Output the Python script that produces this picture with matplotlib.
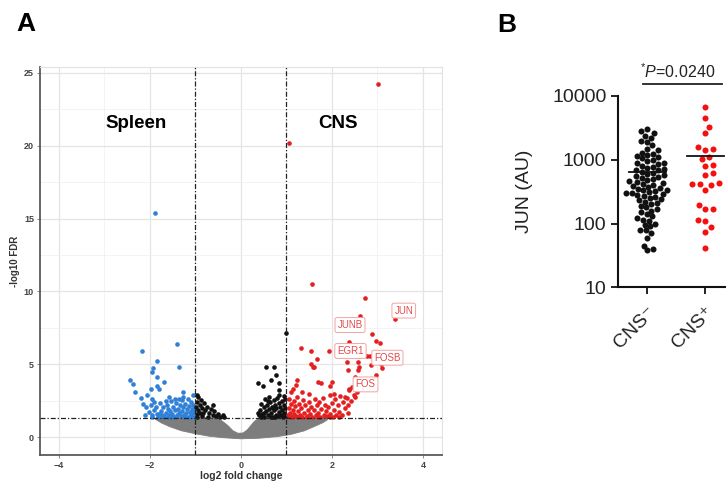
import numpy as np
import matplotlib
matplotlib.use('Agg')
import matplotlib.pyplot as plt
from matplotlib.patches import Polygon

plt.rcParams['font.family'] = ['Liberation Sans', 'DejaVu Sans']
plt.rcParams['mathtext.fontset'] = 'custom'
plt.rcParams['mathtext.rm'] = 'Liberation Sans'
plt.rcParams['mathtext.it'] = 'Liberation Sans:italic'

# ---------------- Panel A data (log2 fold change, -log10 FDR) ----------------
grey_outline = [(-1.85, 1.38), (-0.55, 1.34), (-0.4, 1.1), (-0.28, 0.8), (-0.17, 0.45),
                (-0.06, 0.28), (0.05, 0.3), (0.14, 0.5), (0.22, 0.8), (0.3, 1.1), (0.4, 1.3),
                (0.5, 1.38), (1.93, 1.38), (1.9, 1.2), (1.8, 1.0), (1.62, 0.75), (1.4, 0.45),
                (1.1, 0.2), (0.8, 0.05), (0.4, -0.06), (0.0, -0.1), (-0.4, -0.02),
                (-0.7, 0.08), (-1.0, 0.25), (-1.3, 0.45), (-1.55, 0.72), (-1.75, 1.0),
                (-1.88, 1.25)]

blue_pts = [(-1.88, 15.4), (-1.39, 6.4), (-2.16, 5.94), (-1.85, 5.23), (-1.35, 4.8),
            (-1.92, 4.73), (-1.96, 4.5), (-2.43, 3.93), (-2.36, 3.63), (-1.84, 4.16),
            (-1.68, 3.81), (-1.84, 3.52), (-2.32, 3.13), (-1.97, 3.29), (-1.79, 3.29),
            (-1.26, 3.13), (-2.06, 2.9), (-1.57, 2.79), (-1.26, 2.79), (-2.19, 2.67),
            (-1.94, 2.6), (-1.9, 2.44),
            (-2.15, 2.3), (-2.08, 2.05), (-2.02, 1.75), (-1.98, 2.2), (-1.95, 1.5), (-1.9, 1.9),
            (-1.87, 2.1), (-1.85, 1.6), (-1.82, 1.4), (-1.78, 2.35), (-1.76, 1.8), (-1.73, 1.55),
            (-1.7, 2.05), (-1.68, 1.45), (-1.65, 1.7), (-1.62, 2.25), (-1.6, 1.95), (-1.58, 1.5),
            (-1.55, 1.8), (-1.53, 2.5), (-1.5, 1.6), (-1.48, 2.1), (-1.46, 1.4), (-1.44, 1.85),
            (-1.42, 2.35), (-1.4, 1.55), (-1.38, 1.95), (-1.36, 1.7), (-1.34, 2.2), (-1.32, 1.45),
            (-1.3, 2.55), (-1.28, 1.8), (-1.26, 2.05), (-1.24, 1.5), (-1.22, 2.3), (-1.2, 1.65),
            (-1.18, 1.95), (-1.16, 1.4), (-1.14, 2.15), (-1.12, 1.75), (-1.1, 2.45), (-1.09, 1.5),
            (-1.07, 1.95), (-1.05, 1.65), (-1.04, 2.25), (-1.03, 1.42), (-1.02, 1.85), (-1.5, 1.38),
            (-1.6, 1.38), (-1.7, 1.38), (-1.8, 1.6), (-1.95, 1.38), (-1.25, 1.38), (-1.12, 1.38),
            (-2.1, 1.5), (-1.35, 2.6), (-1.45, 2.65), (-1.15, 2.65), (-1.05, 2.9), (-1.65, 2.5)]

black_pts = [(-0.97, 2.9), (-0.93, 2.75), (-0.88, 2.55), (-0.95, 2.4), (-0.9, 2.2), (-0.85, 2.0),
             (-0.8, 2.35), (-0.78, 1.85), (-0.74, 2.1), (-0.7, 1.7), (-0.66, 1.95), (-0.62, 1.55),
             (-0.58, 1.8), (-0.55, 1.45), (-0.5, 1.6), (-0.45, 1.42), (-0.4, 1.5), (-0.36, 1.38),
             (-0.97, 1.6), (-0.93, 1.9), (-0.98, 2.1), (-0.86, 1.45), (-0.82, 1.65), (-0.72, 1.4),
             (-0.6, 2.2), (-0.95, 1.38), (-0.9, 1.7),
             (0.55, 4.84), (0.73, 4.84), (0.77, 4.27), (0.67, 3.93), (0.37, 3.7), (0.48, 3.52),
             (0.84, 3.7), (0.84, 3.24), (1.0, 7.13),
             (0.4, 1.5), (0.42, 1.9), (0.45, 2.3), (0.47, 1.6), (0.5, 2.05), (0.52, 1.4), (0.54, 2.6),
             (0.56, 1.8), (0.58, 2.2), (0.6, 1.5), (0.62, 2.75), (0.63, 1.95), (0.65, 2.4), (0.67, 1.65),
             (0.68, 2.1), (0.7, 1.4), (0.72, 2.55), (0.73, 1.85), (0.75, 2.25), (0.77, 1.55), (0.78, 2.0),
             (0.8, 2.7), (0.81, 1.45), (0.83, 2.35), (0.85, 1.75), (0.86, 2.1), (0.88, 1.5), (0.9, 2.5),
             (0.91, 1.9), (0.93, 1.4), (0.94, 2.2), (0.96, 1.65), (0.97, 2.0), (0.98, 2.6), (0.99, 1.45),
             (0.44, 1.4), (0.5, 1.7), (0.6, 2.5), (0.7, 2.0), (0.85, 2.9), (0.95, 2.85), (0.38, 1.7),
             (0.66, 1.38), (0.76, 1.38)]

red_pts = [(3.02, 24.2), (1.07, 20.16), (1.56, 10.49), (2.73, 9.53), (2.62, 8.32), (3.38, 8.09),
           (2.89, 7.06), (2.98, 6.6), (3.05, 6.49), (2.38, 6.56), (1.33, 6.15), (1.54, 5.94),
           (1.94, 5.94), (2.84, 5.58), (1.67, 5.37), (1.55, 5.0), (1.59, 4.8), (2.34, 5.19),
           (2.57, 5.19), (2.6, 4.84), (2.36, 4.62), (2.57, 4.62), (3.07, 5.03), (3.1, 4.78),
           (2.96, 4.27), (2.52, 4.16), (1.7, 3.81), (1.77, 3.7), (2.0, 3.81), (1.97, 3.54),
           (1.23, 3.93), (1.21, 3.59), (2.38, 3.33), (1.1, 3.13), (2.78, 5.58), (2.85, 4.96),
           (1.61, 4.84),
           (1.03, 1.5), (1.05, 2.0), (1.06, 2.6), (1.08, 1.7), (1.1, 2.3), (1.12, 1.4), (1.14, 1.9),
           (1.16, 2.5), (1.18, 1.6), (1.2, 2.15), (1.22, 1.45), (1.24, 2.75), (1.26, 1.8), (1.28, 2.3),
           (1.3, 1.5), (1.33, 2.0), (1.35, 1.4), (1.37, 2.55), (1.4, 1.7), (1.42, 2.2), (1.45, 1.45),
           (1.47, 1.9), (1.5, 2.45), (1.52, 1.6), (1.55, 2.1), (1.57, 1.4), (1.6, 1.85), (1.62, 2.6),
           (1.65, 1.5), (1.67, 2.2), (1.7, 1.7), (1.72, 2.45), (1.75, 1.4), (1.77, 1.95), (1.8, 2.7),
           (1.82, 1.55), (1.85, 2.25), (1.87, 1.8), (1.9, 1.45), (1.92, 2.05), (1.95, 2.9), (1.97, 1.6),
           (2.0, 2.35), (2.02, 1.4), (2.05, 1.9), (2.08, 2.6), (2.1, 1.55), (2.13, 2.2), (2.16, 1.75),
           (2.19, 2.83), (2.22, 1.5), (2.25, 2.4), (2.28, 2.0), (2.3, 2.78), (2.34, 2.67), (2.36, 2.2),
           (2.38, 3.24), (2.42, 2.5), (2.45, 3.47), (2.48, 2.9), (2.5, 2.75), (2.55, 3.1), (2.6, 3.3),
           (2.35, 1.7), (2.15, 1.38), (1.95, 1.38), (1.7, 1.38), (1.45, 1.38), (1.25, 1.38), (1.1, 1.38),
           (1.5, 3.0), (1.35, 3.1), (1.15, 3.3), (2.05, 3.0), (2.65, 3.5)]

gene_labels = ['JUN', 'JUNB', 'EGR1', 'FOSB', 'FOS']
gene_label_x = [3.58, 2.40, 2.41, 3.22, 2.74]
gene_label_y = [8.69, 7.70, 5.92, 5.46, 3.63]

fc_cut = 1.0
fdr_cut = 1.3

# ---------------- Panel B data (JUN, AU) ----------------
groups = ['CNS\u207b', 'CNS\u207a']
cns_neg = [3000, 2800, 2600, 2400, 2200, 2000, 1900, 1700, 1500, 1400,
           1300, 1250, 1200, 1150, 1100, 1050, 1000, 950, 900, 880,
           850, 800, 780, 750, 720, 700, 680, 650, 620, 600,
           580, 560, 540, 520, 500, 480, 460, 450, 430, 420,
           400, 390, 380, 360, 350, 340, 330, 320, 310, 300,
           300, 290, 280, 270, 260, 250, 240, 230, 220, 210,
           200, 190, 180, 170, 160, 150, 140, 130, 120, 115,
           110, 100, 95, 90, 80, 78, 70, 60, 45, 40, 38]
cns_pos = [6640, 4460, 3310, 2600, 1600, 1500, 1420, 1120, 1020, 830, 800, 613, 575,
           430, 420, 410, 400, 336, 195, 172, 170, 113, 110, 89, 75, 41]
p_text = r'$^{*}\mathit{P}$=0.0240'

W, H = 726, 482
fig = plt.figure(figsize=(W / 100, H / 100), dpi=100)

# ---------------- Panel A ----------------
axA = fig.add_axes([39.5 / W, 1 - 455 / H, 402.5 / W, 388 / H])
axA.set_xlim(-4.42, 4.42)
axA.set_ylim(-1.21, 25.39)
axA.set_xticks([-4, -2, 0, 2, 4])
axA.set_xticks([-3, -1, 1, 3], minor=True)
axA.set_yticks([0, 5, 10, 15, 20, 25])
axA.set_yticks([2.5, 7.5, 12.5, 17.5, 22.5], minor=True)
axA.grid(True, which='major', color='#e4e4e4', lw=0.9, zorder=0)
axA.grid(True, which='minor', color='#f1f1f1', lw=0.6, zorder=0)
axA.set_axisbelow(True)
for s in ['left', 'bottom']:
    axA.spines[s].set_color('#5a5a5a')
    axA.spines[s].set_linewidth(1.3)
for s in ['top', 'right']:
    axA.spines[s].set_color('#e2e2e2')
    axA.spines[s].set_linewidth(0.8)
axA.tick_params(which='major', length=2, width=0.6, color='#777', labelsize=6.5,
                labelcolor='#444', pad=2)
axA.tick_params(which='minor', length=0)
for lab in axA.get_xticklabels() + axA.get_yticklabels():
    lab.set_fontweight('bold')

axA.add_patch(Polygon(grey_outline, closed=True, fc='#7d7d7d', ec='#7d7d7d', lw=0.6, zorder=2))
bp = np.array(blue_pts); kp = np.array(black_pts); rp = np.array(red_pts)
axA.scatter(bp[:, 0], bp[:, 1], s=11, c='#2f80d6', lw=0, zorder=3)
axA.scatter(kp[:, 0], kp[:, 1], s=11, c='#111111', lw=0, zorder=3)
axA.scatter(rp[:, 0], rp[:, 1], s=11, c='#e41f1f', lw=0, zorder=3)

dashdot = (0, (4, 1.6, 1, 1.6))
axA.axvline(-fc_cut, ls=dashdot, color='#222', lw=0.9, zorder=4)
axA.axvline(fc_cut, ls=dashdot, color='#222', lw=0.9, zorder=4)
axA.axhline(fdr_cut, ls=dashdot, color='#222', lw=0.9, zorder=4)

for g, gx, gy in zip(gene_labels, gene_label_x, gene_label_y):
    axA.text(gx, gy, g, color='#e34a4a', fontsize=7, ha='center', va='center', zorder=5,
             bbox=dict(boxstyle='round,pad=0.25,rounding_size=0.2', fc='white', ec='#f2a3a3', lw=0.7))

axA.text(-2.3, 21.5, 'Spleen', fontsize=13.5, fontweight='bold', ha='center', va='center')
axA.text(2.13, 21.5, 'CNS', fontsize=13.5, fontweight='bold', ha='center', va='center')
axA.set_xlabel('log2 fold change', fontsize=7.5, fontweight='bold', color='#333', labelpad=1)
axA.set_ylabel('-log10 FDR', fontsize=7, fontweight='bold', color='#333', labelpad=3)

fig.text(16 / W, 1 - 31 / H, 'A', fontsize=19, fontweight='bold', ha='left', va='baseline')
fig.text(497 / W, 1 - 32 / H, 'B', fontsize=19, fontweight='bold', ha='left', va='baseline')

# ---------------- Panel B ----------------
axB = fig.add_axes([618.3 / W, 1 - 287.3 / H, 116 / W, 191.3 / H])
axB.set_yscale('log')
axB.set_ylim(10, 10000)
axB.set_xlim(-0.5, 1.5)
for s in ['top', 'right']:
    axB.spines[s].set_visible(False)
for s in ['left', 'bottom']:
    axB.spines[s].set_linewidth(1.5)
    axB.spines[s].set_color('#111')
axB.set_yticks([10, 100, 1000, 10000])
axB.set_yticklabels(['10', '100', '1000', '10000'])
axB.yaxis.set_minor_locator(matplotlib.ticker.NullLocator())
axB.set_xticks([0, 1])
axB.set_xticklabels(groups, rotation=45, ha='right', va='top', rotation_mode='anchor')
axB.tick_params(axis='both', length=5, width=1.3, color='#111', labelsize=14, labelcolor='#222')
axB.tick_params(axis='x', pad=7)
axB.set_ylabel('JUN (AU)', fontsize=14, color='#222')
axB.yaxis.set_label_coords(-0.735, 0.5)


def swarm_x(ax, xc, vals, diam, step=0.5):
    trans = ax.transData
    vals = np.asarray(vals, float)
    disp = trans.transform(np.column_stack([np.full(len(vals), xc), vals]))
    ys = disp[:, 1]
    x0 = disp[0, 0]
    order = np.argsort(ys)
    placed = []
    off = np.zeros(len(vals))
    cands = [0.0]
    for j in range(1, 200):
        cands += [j * step, -j * step]
    for i in order:
        y = ys[i]
        for dx in cands:
            if all((dx - px) ** 2 + (y - py) ** 2 >= diam ** 2 for px, py in placed):
                break
        placed.append((dx, y))
        off[i] = dx
    return trans.inverted().transform(np.column_stack([x0 + off, ys]))[:, 0]


for xc, vals, col, d in [(0, cns_neg, '#111111', 5.6), (1, cns_pos, '#f51010', 7.5)]:
    xs = swarm_x(axB, xc, vals, d)
    axB.scatter(xs, vals, s=19, c=col, lw=0, zorder=3, clip_on=False)
    m = np.mean(vals)
    axB.plot([xc - 0.32, xc + 0.32], [m, m], color='#111', lw=1.3, zorder=4)

axB.plot([-0.07, 1.29], [15240, 15240], color='#222', lw=1.3, clip_on=False)
axB.text(0.53, 24000, p_text, fontsize=11.5, ha='center', va='center', color='#222', clip_on=False)

fig.savefig('out.png', dpi=100)
